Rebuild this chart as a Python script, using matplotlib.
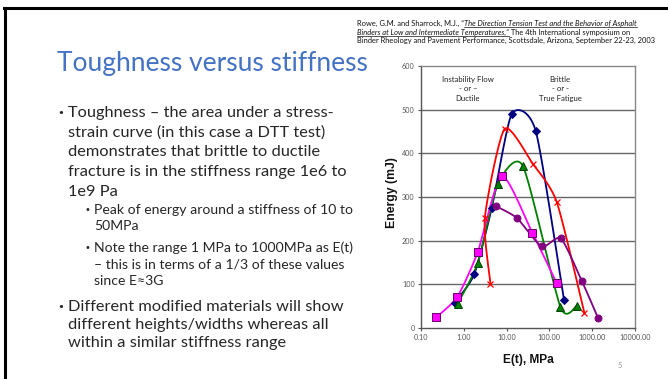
import numpy as np
import matplotlib
matplotlib.use("Agg")
import matplotlib.pyplot as plt
from matplotlib.lines import Line2D

# ---- data (stiffness in MPa, energy in mJ) ----
blue_x = [0.61, 1.75, 4.5, 13.2, 48.0, 221.0]
blue_y = [58, 123, 275, 490, 451, 63]

magenta_x = [0.23, 0.70, 2.1, 7.7, 40.0, 149.0]
magenta_y = [25, 71, 173, 348, 218, 102]

green_x = [0.72, 2.1, 6.3, 24.0, 181.0, 430.0]
green_y = [56, 148, 330, 371, 48, 50]

red_x = [4.2, 3.1, 9.0, 41.0, 149.0, 656.0]
red_y = [101, 252, 456, 376, 288, 35]

purple_x = [5.6, 17.3, 66.0, 185.0, 570.0, 1370.0]
purple_y = [279, 252, 187, 205, 108, 23]

x_ticks = [0.1, 1, 10, 100, 1000, 10000]
x_ticklabels = ["0.10", "1.00", "10.00", "100.00", "1000.00", "10000.00"]
y_ticks = [0, 100, 200, 300, 400, 500, 600]

W, H = 668, 379
FONT = "Lato"


def px(x, y):
    return x / W, 1 - y / H


def smooth(xs, ys, n=24, k=9.0):
    # cubic Bezier through the points in (log x, y) space, similar to Excel's smoothed lines
    lx = np.log10(xs)
    ly = np.asarray(ys, float) / 100.0
    P = np.column_stack([lx, ly])
    P = np.vstack([P[0], P, P[-1]])
    out = []
    t = np.linspace(0, 1, n)[:, None]
    for i in range(1, len(P) - 2):
        p0, p1, p2, p3 = P[i - 1], P[i], P[i + 1], P[i + 2]
        c1 = p1 + (p2 - p0) / k
        c2 = p2 - (p3 - p1) / k
        seg = ((1 - t) ** 3) * p1 + 3 * ((1 - t) ** 2) * t * c1 + 3 * (1 - t) * t ** 2 * c2 + t ** 3 * p2
        out.append(seg)
    out = np.vstack(out)
    return 10 ** out[:, 0], out[:, 1] * 100


fig = plt.figure(figsize=(W / 100, H / 100), dpi=100)
fig.patch.set_facecolor("white")

# slide frame (top and left edges)
fig.add_artist(Line2D([4 / W, 1], [1 - 7.5 / H] * 2, color="black", lw=2.2))
fig.add_artist(Line2D([5 / W] * 2, [1 - 7.5 / H, 0], color="black", lw=2.2))

# title
fig.text(*px(57, 71), "Toughness versus stiffness", fontsize=19.0, color="#4472C4",
         family=FONT, va="baseline")

# bullets
body = 11.8
sub = 10.1
txt_col = "#262626"
main_lines = [
    (117.5, "Toughness \u2013 the area under a stress-", True),
    (137, "strain curve (in this case a DTT test)", False),
    (156.5, "demonstrates that brittle to ductile", False),
    (176, "fracture is in the stiffness range 1e6 to", False),
    (195.5, "1e9 Pa", False),
    (311, "Different modified materials will show", True),
    (329, "different heights/widths whereas all", False),
    (347, "within a similar stiffness range", False),
]
for yb, s, bullet in main_lines:
    if bullet:
        fig.text(*px(57, yb - 1), "\u2022", fontsize=body * 0.7, family="DejaVu Sans",
                 va="baseline", color=txt_col)
    fig.text(*px(68, yb), s, fontsize=body, family=FONT, va="baseline", color=txt_col)

sub_lines = [
    (214, "Peak of energy around a stiffness of 10 to", True),
    (230.5, "50MPa", False),
    (252, "Note the range 1 MPa to 1000MPa as E(t)", True),
    (268.5, "\u2013 this is in terms of a 1/3 of these values", False),
    (285, "since E\u22483G", False),
]
for yb, s, bullet in sub_lines:
    if bullet:
        fig.text(*px(85, yb - 1), "\u2022", fontsize=sub * 0.7, family="DejaVu Sans",
                 va="baseline", color=txt_col)
    fig.text(*px(94, yb), s, fontsize=sub, family=[FONT, "DejaVu Sans"], va="baseline", color=txt_col)

# citation (mixed regular / italic underlined pieces)
renderer = fig.canvas.get_renderer()
cite = 5.45
cite_lines = [
    (26, [("Rowe, G.M. and Sharrock, M.J., \u201c", False),
          ("The Direction Tension Test and the Behavior of Asphalt", True)]),
    (34.5, [("Binders at Low and Intermediate Temperatures,\u201d", True),
            (" The 4th International symposium on", False)]),
    (43, [("Binder Rheology and Pavement Performance, Scottsdale, Arizona, September 22-23, 2003", False)]),
]
for yb, parts in cite_lines:
    x = 357.0
    for s, ital in parts:
        t = fig.text(*px(x, yb), s, fontsize=cite, family=FONT, va="baseline",
                     style="italic" if ital else "normal", color="#111111")
        w = t.get_window_extent(renderer).width
        if ital:
            fig.add_artist(Line2D([x / W, (x + w) / W], [1 - (yb + 1.3) / H] * 2,
                                  color="#111111", lw=0.5))
        x += w

# page number
fig.text(*px(620, 366), "5", fontsize=5.5, family=FONT, color="#999999", ha="center", va="center")

# ---- chart ----
ax = fig.add_axes([421 / W, 1 - 328 / H, 214 / W, 262 / H])
ax.set_xscale("log")
ax.set_xlim(0.1, 10000)
ax.set_ylim(0, 600)
ax.set_yticks(y_ticks)
ax.set_yticklabels([str(v) for v in y_ticks])
ax.set_xticks(x_ticks)
ax.set_xticklabels(x_ticklabels)
ax.xaxis.set_minor_locator(matplotlib.ticker.NullLocator())
for v in y_ticks[1:-1]:
    ax.axhline(v, color="#666666", lw=1.0, zorder=1)
for sp in ax.spines.values():
    sp.set_color("#888888")
    sp.set_linewidth(1.0)
ax.spines["left"].set_color("#555555")
ax.spines["bottom"].set_color("#555555")
ax.tick_params(axis="both", labelsize=5.2, length=2.5, width=0.8, color="#555555",
               labelcolor="#555555", pad=2)
for lab in ax.get_xticklabels() + ax.get_yticklabels():
    lab.set_family(FONT)

series = [
    (blue_x, blue_y, "#000080", "D", 4, "#000080"),
    (green_x, green_y, "#008000", "^", 5.5, "#004000"),
    (magenta_x, magenta_y, "#FF00FF", "s", 5.5, "#660066"),
    (red_x, red_y, "#FF0000", "x", 5, "#FF0000"),
    (purple_x, purple_y, "#800080", "o", 5, "#800080"),
]
for xs, ys, c, m, ms, ec in series:
    sx, sy = smooth(xs, ys)
    ax.plot(sx, sy, color=c, lw=1.3, zorder=3)
    ax.plot(xs, ys, ls="none", marker=m, ms=ms, color=c, mec=ec, mew=0.7 if m != "x" else 0.9, zorder=4)

ax.text(1.25, 578, "Instability Flow\n- or \u2013\nDuctile", ha="center", va="top",
        fontsize=5.6, family=FONT, linespacing=1.45, color="#222222")
ax.text(178, 578, "Brittle\n- or -\nTrue Fatigue", ha="center", va="top",
        fontsize=5.6, family=FONT, linespacing=1.45, color="#222222")

fig.text(*px(392, 193), "Energy (mJ)", rotation=90, ha="center", va="center",
         fontsize=8.8, fontweight="bold", family="Liberation Sans", color="#111111")
fig.text(*px(528, 360), "E(t), MPa", ha="center", va="center",
         fontsize=8.6, fontweight="bold", family="Liberation Sans", color="#111111")

fig.savefig("out.png", dpi=100)
